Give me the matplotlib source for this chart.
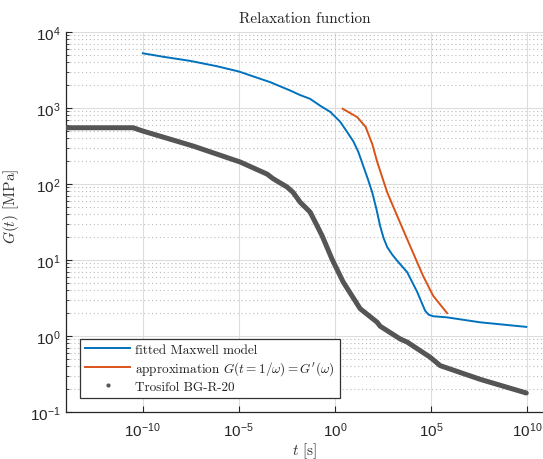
import numpy as np
import matplotlib
matplotlib.use("Agg")
import matplotlib.pyplot as plt
from matplotlib.lines import Line2D
from matplotlib.ticker import LogLocator, NullFormatter, NullLocator

plt.rcParams['mathtext.fontset'] = 'cm'
plt.rcParams['axes.formatter.use_mathtext'] = True

# Data (log10 of t [s] and log10 of G [MPa])
maxwell_log_t = [-10.0, -8.96, -7.54, -6.15, -5.0, -4.07, -3.37, -2.33, -1.81, -1.29,
                 -0.77, -0.25, 0.27, 0.62, 0.96, 1.22, 1.47, 1.70, 1.94, 2.15,
                 2.35, 2.53, 2.72, 2.97, 3.24, 3.76, 4.28, 4.53, 4.70, 4.88,
                 5.11, 5.84, 7.56, 9.96]
maxwell_log_G = [3.72, 3.675, 3.62, 3.55, 3.48, 3.40, 3.34, 3.23, 3.17, 3.12,
                 3.03, 2.95, 2.82, 2.69, 2.56, 2.42, 2.24, 2.075, 1.89, 1.68,
                 1.45, 1.29, 1.17, 1.075, 0.99, 0.84, 0.58, 0.43, 0.33, 0.28,
                 0.26, 0.245, 0.18, 0.12]

approx_log_t = [0.40, 1.16, 1.60, 1.95, 2.20, 2.72, 3.24, 3.92, 4.59, 5.11, 5.84]
approx_log_G = [2.99, 2.88, 2.75, 2.52, 2.29, 1.89, 1.58, 1.18, 0.79, 0.53, 0.30]

meas_log_t = [-14.0, -10.5, -10.04, -7.39, -4.94, -3.53, -3.22, -2.49, -2.18, -1.81,
              -1.29, -0.67, -0.15, 0.43, 1.31, 2.20, 2.35, 3.40, 3.76, 4.96,
              5.48, 7.56, 9.96]
meas_log_G = [2.74, 2.74, 2.70, 2.50, 2.29, 2.13, 2.07, 1.96, 1.89, 1.76,
              1.63, 1.32, 1.01, 0.71, 0.36, 0.18, 0.13, -0.04, -0.08, -0.28,
              -0.39, -0.57, -0.75]

labels = ["fitted Maxwell model",
          r"approximation $G(t=1/\omega)=G^{\prime}(\omega)$",
          "Trosifol BG-R-20"]

blue = '#0072BD'
orange = '#D95319'
gray = '#555555'

fig = plt.figure(figsize=(5.43, 4.60), dpi=100)
ax = fig.add_axes([66 / 543, 47 / 460, 477 / 543, 380 / 460])

ax.plot(10.0 ** np.array(meas_log_t), 10.0 ** np.array(meas_log_G),
        color=gray, lw=3.6, solid_capstyle='round', solid_joinstyle='round', zorder=3)
ax.plot(10.0 ** np.array(maxwell_log_t), 10.0 ** np.array(maxwell_log_G),
        color=blue, lw=1.4, solid_joinstyle='round', zorder=4)
ax.plot(10.0 ** np.array(approx_log_t), 10.0 ** np.array(approx_log_G),
        color=orange, lw=1.4, solid_joinstyle='round', zorder=4)

ax.set_xscale('log')
ax.set_yscale('log')
ax.set_xlim(1e-14, 10 ** 10.83)
ax.set_ylim(1e-1, 1e4)

ax.set_xticks([1e-10, 1e-5, 1e0, 1e5, 1e10])
ax.xaxis.set_minor_locator(NullLocator())
ax.xaxis.set_minor_formatter(NullFormatter())
ax.yaxis.set_major_locator(LogLocator(base=10, numticks=20))
ax.yaxis.set_minor_locator(LogLocator(base=10, subs=np.arange(2, 10), numticks=20))
ax.yaxis.set_minor_formatter(NullFormatter())

ax.grid(True, which='major', color='#dddddd', lw=0.8, ls='-')
ax.grid(True, which='minor', axis='y', color='#bbbbbb', lw=0.8, ls=(0, (1, 2.5)))
ax.set_axisbelow(True)

for s in ['top', 'right']:
    ax.spines[s].set_visible(False)
for s in ['left', 'bottom']:
    ax.spines[s].set_color('#262626')
    ax.spines[s].set_linewidth(0.9)

ax.tick_params(which='both', direction='in', colors='#262626', labelcolor='#262626',
               labelfontfamily='Liberation Sans', labelsize=11)
ax.tick_params(axis='x', which='major', length=4, pad=6)
ax.tick_params(axis='y', which='major', length=4, pad=4)
ax.tick_params(axis='y', which='minor', length=2.2)

ax.set_title("Relaxation function", fontfamily='cmr10', fontsize=11, pad=7, color='#222222')
ax.set_xlabel("$t$ [s]", fontfamily='cmr10', fontsize=11, labelpad=1, color='#333333')
ax.set_ylabel("$G(t)$ [MPa]", fontfamily='cmr10', fontsize=11, color='#333333')
ax.yaxis.set_label_coords(-0.094, 0.545)

handles = [Line2D([], [], color=blue, lw=1.4),
           Line2D([], [], color=orange, lw=1.4),
           Line2D([], [], color=gray, ls='none', marker='.', markersize=4)]
leg = ax.legend(handles, labels, loc='lower left', bbox_to_anchor=(0.029, 0.037),
                borderaxespad=0, prop={'family': 'cmr10', 'size': 9.5},
                fancybox=False, framealpha=1, edgecolor='#333333',
                handlelength=3.4, handletextpad=0.4, labelspacing=0.25,
                borderpad=0.4)
leg.get_frame().set_linewidth(0.9)
for t in leg.get_texts():
    t.set_color('#222222')

fig.savefig('out.png', dpi=100)
